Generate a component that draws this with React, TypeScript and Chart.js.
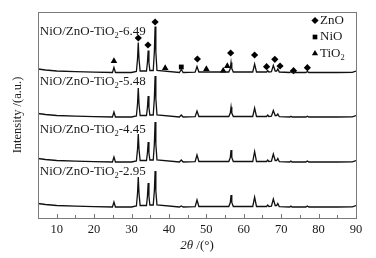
import React, { useEffect, useRef } from "react";
import { Chart, registerables } from "chart.js";

Chart.register(...registerables);

// 2θ positions (degrees) shared by all patterns
const twoTheta = [
  5, 7, 10, 15, 20, 24.9, 25.3, 25.7, 30, 31.3, 31.6, 31.8, 32.0, 32.3, 34.0, 34.25, 34.45, 34.65, 34.9,
  35.8, 36.1, 36.3, 36.5, 36.8, 42.8, 43.3, 43.8, 47.0, 47.5, 48.0, 56.0, 56.4, 56.6, 56.8, 57.2, 62.4,
  62.9, 63.4, 66.1, 66.4, 66.7, 67.4, 67.9, 68.4, 68.8, 69.1, 69.5, 72.3, 72.6, 72.9, 76.6, 77.0, 77.4,
  85, 89, 90,
];

const sampleNames = ["NiO/ZnO-TiO2-6.49", "NiO/ZnO-TiO2-5.48", "NiO/ZnO-TiO2-4.45", "NiO/ZnO-TiO2-2.95"];

// Intensities (a.u., stacked patterns)
const intensity649 = [
  149, 148, 147, 146.3, 145.8, 145.5, 150.5, 145.5, 145.5, 146.5, 159, 175.5, 159, 147, 147, 155.5, 167.5, 155.5, 147.5,
  147.5, 166, 191.5, 166, 147.5, 145.5, 148.5, 145.5, 145.8, 151.5, 146, 146, 149.5, 155.5, 149.5, 146, 146,
  154, 146, 146, 147.5, 146, 146.3, 152.5, 147, 147, 149, 146, 145.5, 146.5, 145.5, 145.5, 146.5, 145.5,
  145.5, 145.7, 147,
];
const intensity548 = [
  104.5, 103.5, 102.5, 101.8, 101.3, 101, 106, 101, 101, 102, 114, 130, 114, 102.5, 102.5, 110.5, 122, 110.5, 103,
  103, 119.5, 142, 119.5, 103, 101, 103, 101, 101.3, 107, 101.5, 101.5, 105, 111, 105, 101.5, 101.5,
  110, 101.5, 101.5, 103, 101.5, 101.8, 107.5, 102.5, 102.5, 104, 101.3, 101, 101.8, 101, 101, 101.8, 101,
  101, 101.2, 102.5,
];
const intensity445 = [
  59.5, 58.5, 57.5, 56.8, 56.3, 56, 61, 56, 56, 57, 68.6, 84, 68.6, 57.5, 57.5, 65, 76, 65, 58,
  58, 74, 96, 74, 58, 56, 58, 56, 56.3, 63, 56.5, 56.5, 60.5, 68, 60.5, 56.5, 56.5,
  66.5, 56.5, 56.5, 58, 56.5, 56.8, 64, 57.5, 57.5, 59.5, 56.3, 56, 57, 56, 56, 57, 56,
  56, 56.2, 57.5,
];
const intensity295 = [
  14.5, 13.5, 12.5, 11.8, 11.3, 11, 16, 11, 11, 12, 24.5, 41, 24.5, 12.5, 12.5, 21.8, 35, 21.8, 13,
  13, 27, 47, 27, 13, 11, 12, 11, 11.3, 18, 11.5, 11.5, 15.5, 23, 15.5, 11.5, 11.5,
  21, 11.5, 11.5, 13, 11.5, 11.8, 19, 12.5, 12.5, 14.5, 11.3, 11, 12, 11, 11, 12, 11,
  11, 11.2, 12.5,
];

// Phase markers
const znoX = [31.8, 34.4, 36.3, 47.6, 56.5, 62.9, 66.1, 68.3, 69.7, 73.3, 77.0];
const znoY = [180, 173, 196, 159, 165, 163, 151.3, 158.7, 152, 147.3, 150.3];
const nioX = [43.3];
const nioY = [151];
const tio2X = [25.3, 39.0, 50.0, 54.5, 55.6];
const tio2Y = [157, 150, 149, 147.3, 152];

const xTickLabels = [10, 20, 30, 40, 50, 60, 70, 80, 90];
const xTickMarks = [10, 15, 20, 25, 30, 35, 40, 45, 50, 55, 60, 65, 70, 75, 80, 85];

// label anchor (data coords)
const labelX = 5.5;
const labelY = [186.3, 136.3, 88, 46.3];

const FONT = "'Liberation Serif', 'Times New Roman', serif";
const TEXT = "#1a1a1a";

function drawSubText(ctx: CanvasRenderingContext2D, text: string, x: number, y: number, size: number) {
  const idx = text.indexOf("TiO2");
  ctx.textBaseline = "middle";
  ctx.textAlign = "left";
  if (idx < 0) {
    ctx.font = `${size}px ${FONT}`;
    ctx.fillText(text, x, y);
    return;
  }
  const a = text.slice(0, idx + 3);
  const b = text.slice(idx + 4);
  ctx.font = `${size}px ${FONT}`;
  ctx.fillText(a, x, y);
  let cx = x + ctx.measureText(a).width;
  ctx.font = `${size * 0.65}px ${FONT}`;
  ctx.fillText("2", cx, y + size * 0.3);
  cx += ctx.measureText("2").width;
  ctx.font = `${size}px ${FONT}`;
  ctx.fillText(b, cx, y);
}

function drawMarker(ctx: CanvasRenderingContext2D, style: string, x: number, y: number, r: number) {
  ctx.beginPath();
  if (style === "rectRot") {
    ctx.moveTo(x - r, y);
    ctx.lineTo(x, y - r);
    ctx.lineTo(x + r, y);
    ctx.lineTo(x, y + r);
  } else if (style === "rect") {
    const s = r * Math.SQRT1_2;
    ctx.rect(x - s, y - s, 2 * s, 2 * s);
  } else {
    ctx.moveTo(x, y - r);
    ctx.lineTo(x + r * 0.866, y + r * 0.5);
    ctx.lineTo(x - r * 0.866, y + r * 0.5);
  }
  ctx.closePath();
  ctx.fill();
}

const decorPlugin = {
  id: "decor",
  afterDraw(chart: any) {
    const { ctx, chartArea, scales } = chart;
    const { left, right, top, bottom } = chartArea;
    const xs = scales.x;
    const ys = scales.y;
    ctx.save();
    // frame
    ctx.strokeStyle = "#7a7a7a";
    ctx.lineWidth = 1;
    ctx.strokeRect(Math.round(left) + 0.5, Math.round(top) + 0.5, Math.round(right - left), Math.round(bottom - top));
    // inward ticks
    ctx.beginPath();
    for (const v of xTickMarks) {
      const px = Math.round(xs.getPixelForValue(v)) + 0.5;
      const len = v % 10 === 0 ? 4 : 3;
      ctx.moveTo(px, Math.round(bottom));
      ctx.lineTo(px, Math.round(bottom) - len);
    }
    ctx.stroke();

    // sample labels
    ctx.fillStyle = TEXT;
    sampleNames.forEach((name, i) => {
      drawSubText(ctx, name, xs.getPixelForValue(labelX), ys.getPixelForValue(labelY[i]), 13);
    });

    // legend (marker datasets)
    const markerSets = chart.data.datasets.filter((d: any) => d.isMarker);
    const lx = right - 41;
    let ly = top + 8.5;
    markerSets.forEach((d: any) => {
      ctx.fillStyle = "#000";
      drawMarker(ctx, d.pointStyle, lx, ly, d.pointStyle === "rect" ? 3.3 : 3.6);
      ctx.fillStyle = TEXT;
      drawSubText(ctx, d.label, lx + 5, ly, 13);
      ly += 16.5;
    });

    // x title: italic 2θ + " /(°)"
    const cx = (left + right) / 2;
    const ty = bottom + 28;
    ctx.font = `italic 13px ${FONT}`;
    const p1 = "2θ";
    const w1 = ctx.measureText(p1).width;
    ctx.font = `13px ${FONT}`;
    const p2 = " /(°)";
    const w2 = ctx.measureText(p2).width;
    const sx = cx - (w1 + w2) / 2;
    ctx.textBaseline = "middle";
    ctx.textAlign = "left";
    ctx.font = `italic 13px ${FONT}`;
    ctx.fillText(p1, sx, ty);
    ctx.font = `13px ${FONT}`;
    ctx.fillText(p2, sx + w1, ty);
    ctx.restore();
  },
};

export default function App() {
  const ref = useRef<HTMLCanvasElement | null>(null);
  useEffect(() => {
    if (!ref.current) return;
    const lineSet = (label: string, vals: number[]) => ({
      label,
      data: twoTheta.map((x, i) => ({ x, y: vals[i] })),
      borderColor: "#111",
      borderWidth: 1.3,
      pointRadius: 0,
      tension: 0,
      fill: false,
    });
    const markSet = (label: string, xs: number[], ysv: number[], style: string, r: number) => ({
      label,
      isMarker: true,
      data: xs.map((x, i) => ({ x, y: ysv[i] })),
      showLine: false,
      pointStyle: style,
      pointRadius: r,
      backgroundColor: "#000",
      borderColor: "#000",
      borderWidth: 0,
    });
    const chart = new Chart(ref.current, {
      type: "line",
      data: {
        datasets: [
          lineSet(sampleNames[0], intensity649),
          lineSet(sampleNames[1], intensity548),
          lineSet(sampleNames[2], intensity445),
          lineSet(sampleNames[3], intensity295),
          markSet("ZnO", znoX, znoY, "rectRot", 3.6),
          markSet("NiO", nioX, nioY, "rect", 3.4),
          markSet("TiO2", tio2X, tio2Y, "triangle", 3.8),
        ] as any,
      },
      options: {
        animation: false,
        responsive: false,
        layout: { padding: { top: 12, right: 20, left: 0, bottom: 0 } },
        plugins: { legend: { display: false }, tooltip: { enabled: false } },
        scales: {
          x: {
            type: "linear",
            min: 5,
            max: 90,
            grid: { display: false, drawTicks: false },
            border: { display: false },
            afterBuildTicks: (s: any) => {
              s.ticks = xTickLabels.map((v) => ({ value: v }));
            },
            afterFit: (s: any) => {
              s.height = 40;
            },
            ticks: {
              color: TEXT,
              padding: 4,
              maxRotation: 0,
              font: { family: FONT, size: 12.5 },
            },
          },
          y: {
            type: "linear",
            min: 0,
            max: 206,
            grid: { display: false, drawTicks: false },
            border: { display: false },
            ticks: { display: false },
            afterFit: (s: any) => {
              s.width = 38;
            },
            title: {
              display: true,
              text: "Intensity /(a.u.)",
              color: TEXT,
              font: { family: FONT, size: 12.5 },
              padding: { top: 10.5, bottom: 0 },
            },
          },
        },
      } as any,
      plugins: [decorPlugin],
    });
    return () => chart.destroy();
  }, []);
  return (
    <div style={{ position: "absolute", left: 0, top: 0, width: 376, height: 258, background: "#fff" }}>
      <canvas ref={ref} width={376} height={258} style={{ display: "block" }} />
    </div>
  );
}
